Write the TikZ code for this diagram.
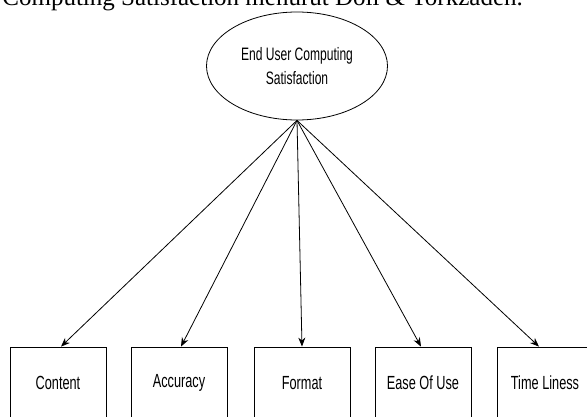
\documentclass[tikz,border=0pt]{standalone}
\usepackage{fontspec}
\setmainfont{Liberation Serif}
\newfontfamily\narrowsans[FakeStretch=0.67]{Liberation Sans}
\usetikzlibrary{shapes.geometric,arrows.meta}
\tikzset{
  konstruk/.style={ellipse, draw, minimum width=181pt, minimum height=108pt, inner sep=0pt, align=center, font=\narrowsans\fontsize{18}{24}\selectfont},
  indikator/.style={rectangle, draw, minimum width=96pt, minimum height=72pt, inner sep=0pt, font=\narrowsans\fontsize{19}{23}\selectfont},
  panah/.style={-{Stealth[length=9pt,width=7pt]}, line width=0.8pt},
}
\begin{document}
\begin{tikzpicture}[x=1pt,y=1pt,line width=0.8pt]
    \useasboundingbox (0,0) rectangle (587,416);
    % Judul
    \node[anchor=base west, inner sep=0pt, font=\fontsize{25}{30}\selectfont] (judul) at (2,410) {Computing Satisfaction menurut Doll \& Torkzadeh.};

    % Konstruk
    \node[konstruk] (eucs) at (297,350) {End User Computing\\Satisfaction};

    % Indikator
    \node[indikator] (content) at (58,33) {Content};
    \node[indikator] (accuracy) at (179,33) {Accuracy};
    \node[indikator] (format) at (302,33) {Format};
    \node[indikator] (ease) at (423,33) {Ease Of Use};
    \node[indikator] (time) at (545,33) {Time Liness};

    % Panah
    \draw[panah] (eucs.south) -- ([xshift=3pt]content.north);
    \draw[panah] (eucs.south) -- ([xshift=2pt]accuracy.north);
    \draw[panah] (eucs.south) -- (format.north);
    \draw[panah] (eucs.south) -- ([xshift=-2pt]ease.north);
    \draw[panah] (eucs.south) -- ([xshift=-6pt]time.north);
\end{tikzpicture}
\end{document}
